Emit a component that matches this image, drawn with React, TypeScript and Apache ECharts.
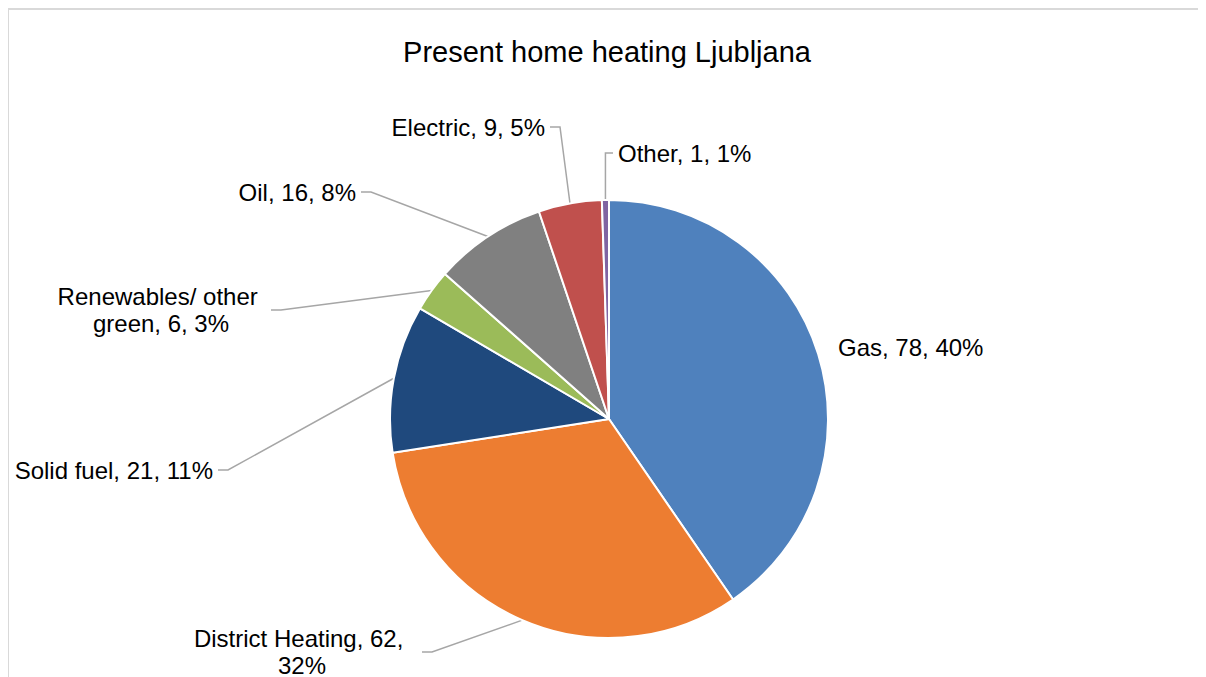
import React, { useEffect, useRef } from "react";
import * as echarts from "echarts";

const TITLE = "Present home heating Ljubljana";
const CATEGORIES = [
  "Gas",
  "District Heating",
  "Solid fuel",
  "Renewables/ other green",
  "Oil",
  "Electric",
  "Other",
];
const VALUES = [78, 62, 21, 6, 16, 9, 1];
const COLORS = ["#4F81BD", "#ED7D31", "#1F497D", "#9BBB59", "#808080", "#C0504D", "#8064A2"];

// label anchor layout (chart pixel coordinates)
const LABEL_LAYOUT = [
  { x: 825, y: 339, align: "left" },
  { x: 294, y: 644, align: "center", width: 230 },
  { x: 210, y: 462, align: "right" },
  { x: 153, y: 302, align: "center", width: 210 },
  { x: 353, y: 184, align: "right" },
  { x: 542, y: 119, align: "right" },
  { x: 605, y: 145, align: "left" },
];

const FONT = "'Liberation Sans', Arial, sans-serif";

export default function App() {
  const ref = useRef<HTMLDivElement>(null);
  useEffect(() => {
    if (!ref.current) return;
    const chart = echarts.init(ref.current, undefined, { renderer: "svg" });
    const total = VALUES.reduce((a, b) => a + b, 0);
    chart.setOption({
      animation: false,
      backgroundColor: "#ffffff",
      title: {
        text: TITLE,
        left: "center",
        top: 22,
        textStyle: {
          fontFamily: FONT,
          fontSize: 29,
          fontWeight: "normal",
          color: "#000000",
          lineHeight: 34,
        },
      },
      graphic: [
        {
          type: "line",
          shape: { x1: 0, y1: 1, x2: 1198, y2: 1 },
          style: { stroke: "#d9d9d9", lineWidth: 2 },
          silent: true,
        },
        {
          type: "line",
          shape: { x1: 0, y1: 0, x2: 0, y2: 669 },
          style: { stroke: "#d9d9d9", lineWidth: 2 },
          silent: true,
        },
      ],
      series: [
        {
          type: "pie",
          center: [601, 411],
          radius: [0, 219],
          startAngle: 90,
          clockwise: true,
          avoidLabelOverlap: false,
          itemStyle: { borderColor: "#ffffff", borderWidth: 2 },
          label: {
            show: true,
            position: "outside",
            fontFamily: FONT,
            fontSize: 24,
            lineHeight: 27,
            color: "#000000",
            padding: [0, 5],
            formatter: (p: any) => {
              const pct = Math.round((p.value / total) * 100);
              return `${p.name}, ${p.value}, ${pct}%`;
            },
          },
          labelLine: {
            show: true,
            length: 10,
            length2: 10,
            lineStyle: { color: "#a6a6a6", width: 1.5 },
          },
          labelLayout: (params: any) => {
            const l = LABEL_LAYOUT[params.dataIndex];
            const o: any = { x: l.x, y: l.y, align: l.align, verticalAlign: "middle" };
            return o;
          },
          data: CATEGORIES.map((name, i) => {
            const item: any = {
              name,
              value: VALUES[i],
              itemStyle: { color: COLORS[i] },
            };
            if (LABEL_LAYOUT[i].width) {
              item.label = {
                width: LABEL_LAYOUT[i].width,
                overflow: "break",
                align: "center",
              };
            }
            if (i === 0) item.labelLine = { show: false };
            return item;
          }),
        },
      ],
    });
    return () => chart.dispose();
  }, []);
  return <div ref={ref} style={{ width: 1198, height: 669 }} />;
}
